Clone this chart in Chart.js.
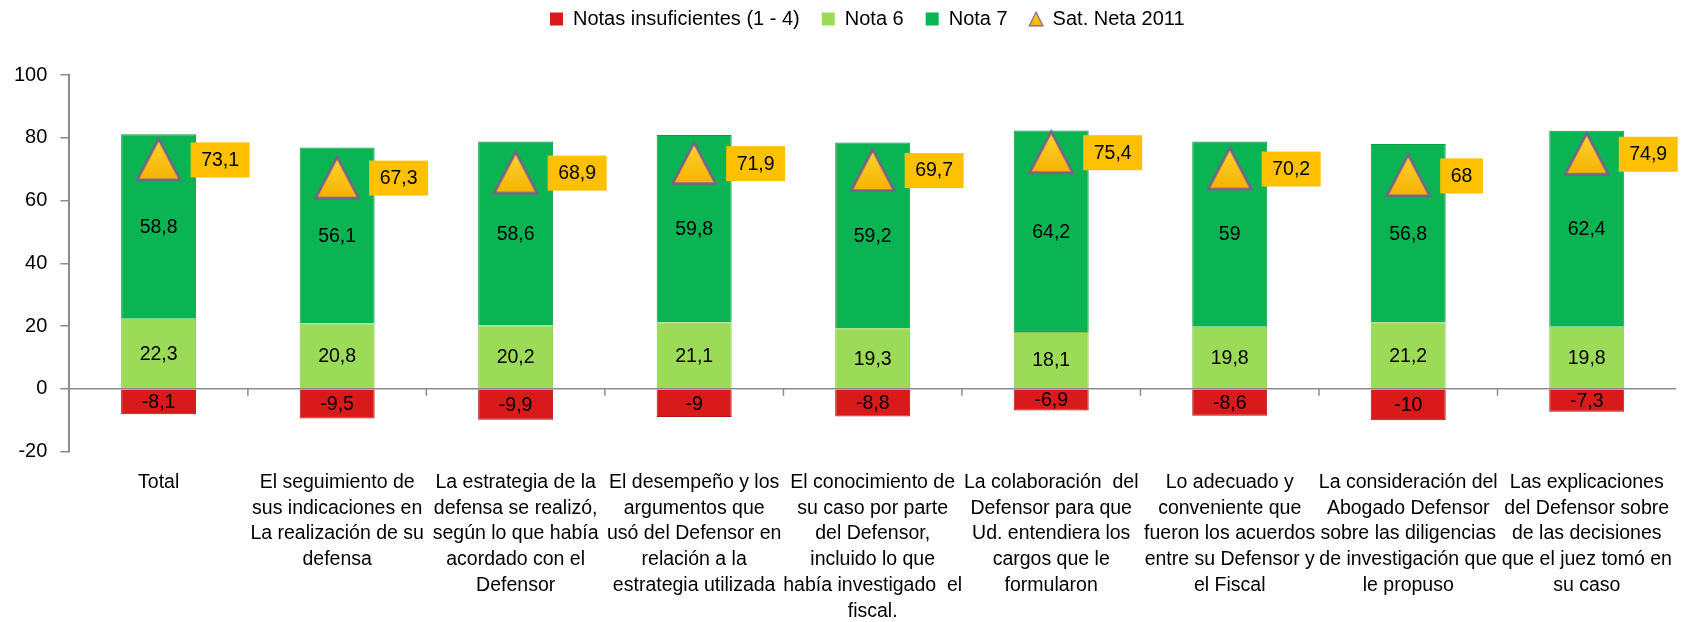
<!DOCTYPE html>
<html>
<head>
<meta charset="utf-8">
<script src="https://cdn.jsdelivr.net/npm/chart.js@4.4.1/dist/chart.umd.min.js"></script>
<style>
  body { margin: 0; background: #fff; }
  #wrap { width: 1699px; height: 622px; position: relative; }
</style>
</head>
<body>
<div id="wrap"><canvas id="grafico"></canvas></div>
<script>
// data
var categorias = [
	["Total"],
	["El seguimiento de", "sus indicaciones en", "La realización de su", "defensa"],
	["La estrategia de la", "defensa se realizó,", "según lo que había", "acordado con el", "Defensor"],
	["El desempeño y los", "argumentos que", "usó del Defensor en", "relación a la", "estrategia utilizada"],
	["El conocimiento de", "su caso por parte", "del Defensor,", "incluido lo que", "había investigado  el", "fiscal."],
	["La colaboración  del", "Defensor para que", "Ud. entendiera los", "cargos que le", "formularon"],
	["Lo adecuado y", "conveniente que", "fueron los acuerdos", "entre su Defensor y", "el Fiscal"],
	["La consideración del", "Abogado Defensor", "sobre las diligencias", "de investigación que", "le propuso"],
	["Las explicaciones", "del Defensor sobre", "de las decisiones", "que el juez tomó en", "su caso"],
];
var notasInsuf = [-8.1, -9.5, -9.9, -9, -8.8, -6.9, -8.6, -10, -7.3];
var nota6 = [22.3, 20.8, 20.2, 21.1, 19.3, 18.1, 19.8, 21.2, 19.8];
var nota7 = [58.8, 56.1, 58.6, 59.8, 59.2, 64.2, 59, 56.8, 62.4];
var satNeta = [73.1, 67.3, 68.9, 71.9, 69.7, 75.4, 70.2, 68, 74.9];
var yTicks = [-20, 0, 20, 40, 60, 80, 100];

var ROJO = "#D91A1A";
var VERDE_CLARO = "#9BDB58";
var VERDE = "#0BB452";
var EJE = "#8C8C8C";
var FUENTE = "'Liberation Sans', Arial, sans-serif";

Chart.defaults.font.family = FUENTE;
Chart.defaults.color = "#000";

function fmt(v) {
	return String(v).replace(".", ",");
}

function triangulo(w, h, lw) {
	var c = document.createElement("canvas");
	c.width = w;
	c.height = h;
	var g = c.getContext("2d");
	var grad = g.createLinearGradient(0, 0, 0, h);
	grad.addColorStop(0, "#FFD631");
	grad.addColorStop(1, "#F5B000");
	g.beginPath();
	g.moveTo(w / 2, lw);
	g.lineTo(w - lw, h - lw);
	g.lineTo(lw, h - lw);
	g.closePath();
	g.fillStyle = grad;
	g.fill();
	g.lineWidth = lw;
	g.strokeStyle = "#7D5F8E";
	g.stroke();
	return c;
}
var triGrande = triangulo(48, 46, 2.5);
var triLeyenda = triangulo(16, 16, 1.2);

// legend needs extra room below it and sits left of centre
var margenLeyenda = {
	id: "margenLeyenda",
	beforeInit: function (chart) {
		var fit = chart.legend.fit;
		chart.legend.fit = function () {
			fit.bind(chart.legend)();
			this.height = 75;
		};
	},
	afterLayout: function (chart) {
		var lg = chart.legend;
		var w = lg.right - lg.left;
		lg.left = 528;
		lg.right = 528 + w;
		lg.top = -13;
	},
};

var etiquetas = {
	id: "etiquetas",
	afterDatasetsDraw: function (chart) {
		var ctx = chart.ctx;
		ctx.save();
		ctx.textBaseline = "middle";
		ctx.font = "19.5px " + FUENTE;
		[0, 1, 2].forEach(function (di) {
			var meta = chart.getDatasetMeta(di);
			var vals = chart.data.datasets[di].data;
			meta.data.forEach(function (bar, i) {
				ctx.fillStyle = "#000";
				ctx.textAlign = "center";
				ctx.fillText(fmt(vals[i]), bar.x, (bar.y + bar.base) / 2 + 1);
			});
		});
		var metaSat = chart.getDatasetMeta(3);
		metaSat.data.forEach(function (pt, i) {
			var txt = fmt(satNeta[i]);
			var w = ctx.measureText(txt).width + 21;
			var x = pt.x + 32;
			ctx.fillStyle = "#FFC000";
			ctx.fillRect(x, pt.y - 17, w, 35);
			ctx.fillStyle = "#000";
			ctx.textAlign = "left";
			ctx.fillText(txt, x + 10.5, pt.y + 1);
		});
		ctx.restore();
	},
	afterDraw: function (chart) {
		// small tick marks on the zero line between categories
		var ctx = chart.ctx;
		var xs = chart.scales.x;
		var y0 = chart.scales.y.getPixelForValue(0);
		ctx.save();
		ctx.strokeStyle = EJE;
		ctx.lineWidth = 1.5;
		for (var i = 1; i < categorias.length; i++) {
			var x = (xs.getPixelForValue(i - 1) + xs.getPixelForValue(i)) / 2;
			ctx.beginPath();
			ctx.moveTo(x, y0);
			ctx.lineTo(x, y0 + 7);
			ctx.stroke();
		}
		ctx.restore();
	},
};

const ctx = document.getElementById("grafico");
const grafico = new Chart(ctx, {
	type: "bar",
	data: {
		labels: categorias,
		datasets: [
			{
				label: "Notas insuficientes (1 - 4)",
				data: notasInsuf,
				backgroundColor: ROJO,
				borderColor: "#B01010",
				borderWidth: 1,
				stack: "notas",
				order: 1,
			},
			{
				label: "Nota 6",
				data: nota6,
				backgroundColor: VERDE_CLARO,
				borderColor: "#86C445",
				borderWidth: 1,
				stack: "notas",
				order: 1,
			},
			{
				label: "Nota 7",
				data: nota7,
				backgroundColor: VERDE,
				borderColor: "#079C45",
				borderWidth: 1,
				stack: "notas",
				order: 1,
			},
			{
				type: "line",
				label: "Sat. Neta 2011",
				data: satNeta,
				showLine: false,
				pointStyle: triGrande,
				pointRadius: 22,
				stack: "sat",
				order: 0,
			},
		],
	},
	options: {
		responsive: true,
		maintainAspectRatio: false,
		animation: false,
		layout: {
			padding: { left: 1, right: 3, top: 0, bottom: -20 },
		},
		datasets: {
			bar: {
				barPercentage: 0.42,
				categoryPercentage: 1,
			},
		},
		plugins: {
			legend: {
				display: true,
				position: "top",
				align: "start",
				labels: {
					usePointStyle: true,
					boxWidth: 13,
					boxHeight: 13,
					padding: 22,
					font: { size: 20 },
					generateLabels: function (chart) {
						var colores = [ROJO, VERDE_CLARO, VERDE, null];
						return chart.data.datasets.map(function (ds, i) {
							return {
								text: ds.label,
								fillStyle: colores[i],
								strokeStyle: colores[i],
								lineWidth: 0,
								pointStyle: i === 3 ? triLeyenda : "rect",
								datasetIndex: i,
								hidden: false,
								fontColor: "#000",
							};
						});
					},
				},
			},
			tooltip: { enabled: false },
		},
		scales: {
			x: {
				stacked: true,
				grid: { display: false, drawTicks: false },
				border: { display: false },
				ticks: {
					autoSkip: false,
					maxRotation: 0,
					padding: 18,
					font: { size: 19.5, lineHeight: 1.32 },
				},
			},
			y: {
				stacked: true,
				min: yTicks[0],
				max: yTicks[yTicks.length - 1],
				afterBuildTicks: function (scale) {
					scale.ticks = yTicks.map(function (v) {
						return { value: v };
					});
				},
				grid: {
					color: function (c) {
						return c.tick && c.tick.value === 0 ? EJE : "rgba(0,0,0,0)";
					},
					lineWidth: 1.5,
					tickColor: EJE,
					tickLength: 9,
				},
				border: { display: true, color: EJE, width: 2 },
				ticks: {
					padding: 13,
					font: { size: 20 },
				},
			},
		},
	},
	plugins: [margenLeyenda, etiquetas],
});
</script>
</body>
</html>
